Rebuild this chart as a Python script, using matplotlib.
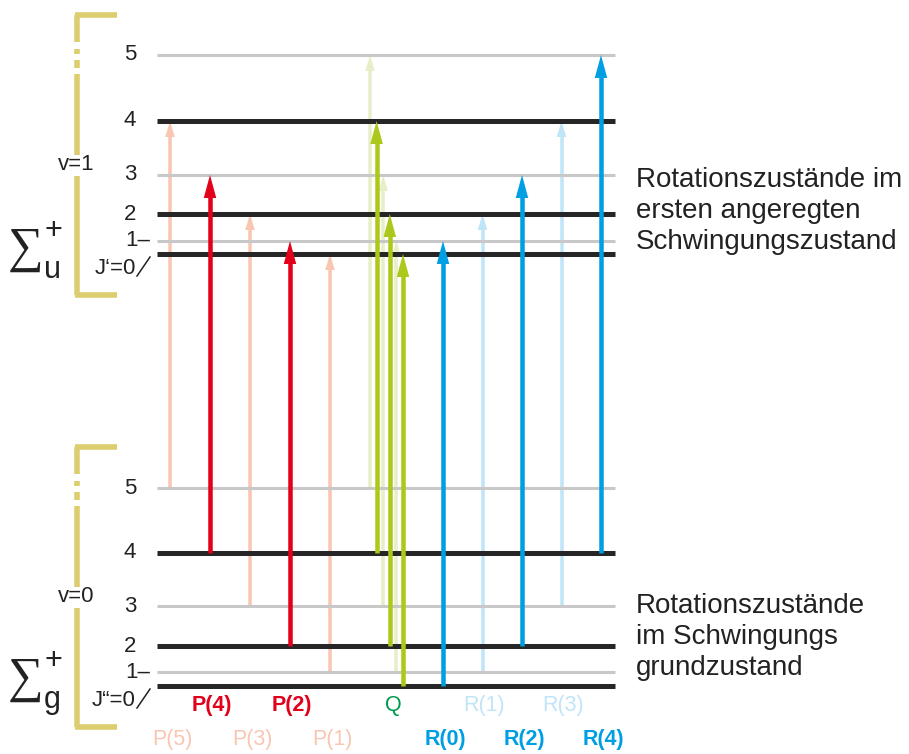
import matplotlib.pyplot as plt
from matplotlib.patches import Polygon

# rotational levels J = 0..5, energy in picture units (from bottom)
J = [0, 1, 2, 3, 4, 5]
E_lower = [68, 82, 108, 148, 201, 266]    # v=0, Sigma_g+
E_upper = [500, 513, 540, 579, 633, 699]  # v=1, Sigma_u+

# transitions (J'', J'), branch, strong/weak
P_lower = [5, 4, 3, 2, 1]
Q_lower = [5, 4, 3, 2, 1, 0]
R_lower = [0, 1, 2, 3, 4]
strong_P = [4, 2]
strong_Q = [4, 2, 0]
strong_R = [0, 2, 4]

upper_text = ["Rotationszustände im", "ersten angeregten", "Schwingungszustand"]
lower_text = ["Rotationszustände", "im Schwingungs", "grundzustand"]

RED, RED_L = "#e3001b", "#f8c6b1"
GRN, GRN_L = "#adc81a", "#e7efc8"
BLU, BLU_L = "#009fe3", "#c0e4f8"
DARK, GRAY, GOLD = "#262626", "#c8c8c8", "#dccd6e"
Q_TXT = "#00994a"

plt.rcParams['font.family'] = ['Liberation Sans', 'DejaVu Sans']

fig = plt.figure(figsize=(9.09, 7.54), dpi=100)
ax = fig.add_axes([0, 0, 1, 1])
ax.set_xlim(0, 909)
ax.set_ylim(0, 754)
ax.axis("off")

X0, X1 = 157, 615


def draw_levels(E, prime):
    for j, e in zip(J, E):
        if j % 2 == 0:
            ax.plot([X0, X1], [e, e], color=DARK, lw=3.6, solid_capstyle="butt", zorder=2)
        else:
            ax.plot([X0, X1], [e, e], color=GRAY, lw=2.2, solid_capstyle="butt", zorder=2)
        if j >= 2:
            ax.text(130, e, str(j), fontsize=16, ha="center", va="center", color="#222222")
    ax.text(125, E[1], "1\u2013", fontsize=16, ha="left", va="center", color="#222222")
    ax.text(136, E[0] - 14, "J" + prime + "=0", fontsize=16, ha="right", va="center", color="#222222")
    ax.plot([137, 150], [E[0] - 22, E[0] - 3], color="#222222", lw=1.1)


def draw_bracket(top, bot, label):
    kw = dict(color=GOLD, lw=4, solid_capstyle="butt")
    ax.plot([75, 117], [top, top], **kw)
    ax.plot([75, 117], [bot, bot], **kw)
    ax.plot([77, 77], [top, top - 27], **kw)
    ax.plot([77, 77], [top - 34, top - 39], **kw)
    ax.plot([77, 77], [top - 45, top - 53], **kw)
    mid = top - 150
    ax.plot([77, 77], [top - 59, mid + 10], **kw)
    ax.plot([77, 77], [mid - 11, bot], **kw)
    ax.text(76, mid, label, fontsize=16, ha="center", va="center", color="#222222")


def arrow(x, y0, y1, color, strong):
    if strong:
        w, hw, hl, z = 4.5, 12.5, 23, 3
    else:
        w, hw, hl, z = 3.5, 9.5, 16, 1
    ax.plot([x, x], [y0, y1 - hl + 1], color=color, lw=w * 0.72, solid_capstyle="butt", zorder=z)
    ax.add_patch(Polygon([[x - hw / 2, y1 - hl], [x + hw / 2, y1 - hl], [x, y1]],
                         closed=True, color=color, lw=0, zorder=z))


draw_levels(E_lower, "\u201c")
draw_levels(E_upper, "\u2018")
draw_bracket(754 - 15, 754 - 295, "v=1")
draw_bracket(754 - 447, 754 - 727, "v=0")

# P branch: J' = J'' - 1
for i, jl in enumerate(P_lower):
    x = 170 + 40 * i
    s = jl in strong_P
    arrow(x, E_lower[jl], E_upper[jl - 1], RED if s else RED_L, s)
    ax.text(x + 2, 754 - (705 if s else 740), "P(%d)" % jl, fontsize=15.5,
            fontweight="bold" if s else "normal", color=RED if s else RED_L,
            ha="center", va="center")

# Q branch: J' = J''
for i, jl in enumerate(Q_lower):
    x = 370 + 6.6 * i
    s = jl in strong_Q
    arrow(x, E_lower[jl], E_upper[jl], GRN if s else GRN_L, s)
ax.text(393, 754 - 705, "Q", fontsize=15.5, color=Q_TXT, ha="center", va="center")

# R branch: J' = J'' + 1
for i, jl in enumerate(R_lower):
    x = 443 + 39.5 * i
    s = jl in strong_R
    arrow(x, E_lower[jl], E_upper[jl + 1], BLU if s else BLU_L, s)
    ax.text(x + 2, 754 - (740 if s else 705), "R(%d)" % jl, fontsize=15.5,
            fontweight="bold" if s else "normal", color=BLU if s else BLU_L,
            ha="center", va="center")

# term symbols
serif = ['Liberation Serif', 'DejaVu Serif']
for yc, sub in [(754 - 249, "u"), (754 - 679, "g")]:
    ax.text(26, yc, "\u2211", fontsize=36, family=serif, ha="center", va="center", color="#222222")
    ax.text(53, yc + 18, "+", fontsize=22, ha="center", va="center", color="#222222")
    ax.text(52, yc - 21, sub, fontsize=22, ha="center", va="center", color="#222222")

for i, t in enumerate(upper_text):
    ax.text(636, 754 - 180 - 31 * i, t, fontsize=20, ha="left", va="center", color="#222222")
for i, t in enumerate(lower_text):
    ax.text(636, 754 - 606 - 31 * i, t, fontsize=20, ha="left", va="center", color="#222222")

fig.savefig("out.png", dpi=100)
